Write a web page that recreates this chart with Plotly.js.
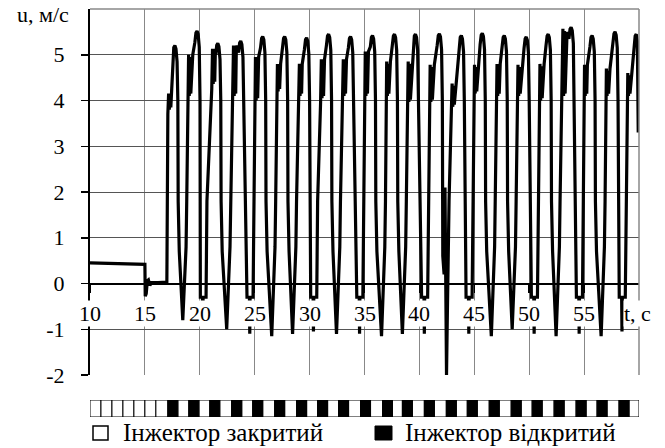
<!DOCTYPE html>
<html><head><meta charset="utf-8">
<script src="https://cdn.plot.ly/plotly-3.0.1.min.js"></script>
<style>html,body{margin:0;padding:0;background:#fff}#chart{width:665px;height:448px}</style>
</head><body><div id="chart"></div>
<script>
// time, s
const tSec = [
10, 12, 14, 15, 15.03, 15.12, 15.22, 15.32, 15.45, 15.6, 16.2, 17.0,
17.09, 17.16, 17.22, 17.29, 17.36, 17.42, 17.53, 17.63, 17.73, 17.83, 17.93, 18.0, 18.03, 18.13, 18.45, 18.75, 18.81,
18.91, 18.98, 19.04, 19.11, 19.18, 19.36, 19.55, 19.65, 19.75, 19.85, 19.95, 20.02, 20.05, 20.24, 20.27, 20.3, 20.57, 20.65,
21.09, 21.16, 21.22, 21.29, 21.36, 21.42, 21.46, 21.54, 21.64, 21.74, 21.84, 21.91, 21.94, 22.04, 22.45, 22.75, 22.81,
23.0, 23.07, 23.13, 23.2, 23.27, 23.33, 23.53, 23.63, 23.73, 23.83, 23.93, 24.0, 24.3, 24.52, 24.55, 24.58, 24.85, 24.93,
25.0, 25.07, 25.13, 25.2, 25.27, 25.36, 25.53, 25.63, 25.73, 25.83, 25.93, 26.0, 26.03, 26.13, 26.55, 26.85, 26.91,
27.0, 27.07, 27.13, 27.2, 27.27, 27.36, 27.53, 27.63, 27.73, 27.83, 27.93, 28.0, 28.03, 28.13, 28.45, 28.75, 28.81,
29.0, 29.07, 29.13, 29.2, 29.27, 29.33, 29.53, 29.63, 29.73, 29.83, 29.93, 30.0, 30.1, 30.32, 30.35, 30.38, 30.65, 30.73,
31.0, 31.07, 31.13, 31.2, 31.27, 31.36, 31.53, 31.63, 31.73, 31.83, 31.93, 32.0, 32.03, 32.13, 32.45, 32.75, 32.81,
33.0, 33.07, 33.13, 33.2, 33.27, 33.36, 33.53, 33.63, 33.73, 33.83, 33.93, 34.0, 34.3, 34.52, 34.55, 34.58, 34.85, 34.93,
35.0, 35.07, 35.13, 35.2, 35.27, 35.36, 35.53, 35.63, 35.73, 35.83, 35.93, 36.0, 36.03, 36.13, 36.55, 36.85, 36.91,
36.95, 37.02, 37.08, 37.15, 37.22, 37.36, 37.53, 37.63, 37.73, 37.83, 37.93, 38.0, 38.03, 38.13, 38.45, 38.75, 38.81,
38.91, 38.98, 39.04, 39.11, 39.18, 39.36, 39.44, 39.54, 39.64, 39.74, 39.84, 39.91, 40.2, 40.42, 40.45, 40.48, 40.75, 40.83,
40.91, 40.98, 41.04, 41.11, 41.18, 41.36, 41.62, 41.72, 41.82, 41.92, 42.02, 42.09, 42.13, 42.25, 42.33, 42.38, 42.42, 42.47, 42.55, 42.62, 42.7,
42.91, 42.98, 43.04, 43.11, 43.18, 43.36, 43.62, 43.72, 43.82, 43.92, 44.02, 44.09, 44.25, 44.47, 44.5, 44.53, 44.8, 44.88,
44.95, 45.02, 45.08, 45.15, 45.22, 45.36, 45.53, 45.63, 45.73, 45.83, 45.93, 46.0, 46.03, 46.13, 46.55, 46.85, 46.91,
47.0, 47.07, 47.13, 47.2, 47.27, 47.36, 47.53, 47.63, 47.73, 47.83, 47.93, 48.0, 48.03, 48.13, 48.45, 48.75, 48.81,
48.91, 48.98, 49.04, 49.11, 49.18, 49.36, 49.53, 49.63, 49.73, 49.83, 49.93, 50.0, 50.2, 50.42, 50.45, 50.48, 50.75, 50.83,
50.91, 50.98, 51.04, 51.11, 51.18, 51.36, 51.53, 51.63, 51.73, 51.83, 51.93, 52.0, 52.03, 52.13, 52.45, 52.75, 52.81,
53.0, 53.07, 53.13, 53.2, 53.27, 53.45, 53.62, 53.72, 53.82, 53.92, 54.02, 54.09, 54.3, 54.52, 54.55, 54.58, 54.85, 54.93,
54.98, 55.04, 55.1, 55.17, 55.24, 55.3, 55.53, 55.63, 55.73, 55.83, 55.93, 56.0, 56.03, 56.13, 56.55, 56.85, 56.91,
56.96, 57.03, 57.09, 57.16, 57.23, 57.36, 57.62, 57.72, 57.82, 57.92, 58.02, 58.09, 58.2, 58.42, 58.45, 58.48, 58.75, 58.83,
58.91, 58.98, 59.04, 59.11, 59.18, 59.36, 59.55, 59.65, 59.75, 59.85, 59.93
];
// velocity, m/s
const uVel = [
0.45, 0.44, 0.43, 0.42, -0.28, -0.22, 0.06, 0.08, -0.04, 0.02, 0.02, 0.03,
3.7, 4.15, 3.8, 4.1, 3.85, 4.15, 4.95, 5.16, 5.2, 5.13, 4.85, 4.0, 1.8, 0.7, -0.8, 0.8, 1.8,
4.0, 5.0, 4.1, 4.95, 4.15, 5.0, 5.27, 5.48, 5.52, 5.45, 5.17, 4.0, -0.3, -0.3, -0.9, -0.3, -0.3, 1.8,
4.26, 5.13, 4.36, 5.08, 4.41, 5.13, 5.0, 5.21, 5.25, 5.18, 4.9, 4.0, 1.8, 0.7, -1.0, 0.8, 1.8,
4.0, 5.2, 4.1, 5.15, 4.15, 5.2, 5.05, 5.26, 5.3, 5.23, 4.95, 4.0, -0.3, -0.3, -1.1, -0.3, -0.3, 1.8,
3.9, 4.95, 4.0, 4.9, 4.05, 4.95, 5.15, 5.36, 5.4, 5.33, 5.05, 4.0, 1.8, 0.7, -1.15, 0.8, 1.8,
4.1, 4.8, 4.2, 4.75, 4.25, 4.8, 5.15, 5.36, 5.4, 5.33, 5.05, 4.0, 1.8, 0.7, -1.1, 0.8, 1.8,
4.0, 4.8, 4.1, 4.75, 4.15, 4.8, 5.12, 5.33, 5.37, 5.3, 5.02, 4.0, -0.3, -0.3, -1.05, -0.3, -0.3, 1.8,
3.95, 4.9, 4.05, 4.85, 4.1, 4.9, 5.2, 5.41, 5.45, 5.38, 5.1, 4.0, 1.8, 0.7, -1.1, 0.8, 1.8,
4.0, 4.9, 4.1, 4.85, 4.15, 4.9, 5.15, 5.36, 5.4, 5.33, 5.05, 4.0, -0.3, -0.3, -1.1, -0.3, -0.3, 1.8,
4.0, 5.07, 4.1, 5.02, 4.15, 5.07, 5.17, 5.38, 5.42, 5.35, 5.07, 4.0, 1.8, 0.7, -1.15, 0.8, 1.8,
4.0, 4.85, 4.1, 4.8, 4.15, 4.85, 5.2, 5.41, 5.45, 5.38, 5.1, 4.0, 1.8, 0.7, -1.1, 0.8, 1.8,
3.87, 4.85, 3.97, 4.8, 4.02, 4.85, 5.2, 5.41, 5.45, 5.38, 5.1, 4.0, -0.3, -0.3, -1.1, -0.3, -0.3, 1.8,
3.87, 4.78, 3.97, 4.73, 4.02, 4.78, 5.21, 5.42, 5.46, 5.39, 5.11, 4.0, 0.6, 0.2, 2.1, 0.3, -0.5, -2.0, -0.6, 0.8, 1.8,
3.76, 4.37, 3.86, 4.32, 3.91, 4.37, 5.17, 5.38, 5.42, 5.35, 5.07, 4.0, -0.3, -0.3, -1.1, -0.3, -0.3, 1.8,
4.05, 4.78, 4.15, 4.73, 4.2, 4.78, 5.22, 5.43, 5.47, 5.4, 5.12, 4.0, 1.8, 0.7, -1.15, 0.8, 1.8,
4.0, 4.8, 4.1, 4.75, 4.15, 4.8, 5.17, 5.38, 5.42, 5.35, 5.07, 4.0, 1.8, 0.7, -1.0, 0.8, 1.8,
4.0, 4.78, 4.1, 4.73, 4.15, 4.78, 5.14, 5.35, 5.39, 5.32, 5.04, 4.0, -0.3, -0.3, -1.1, -0.3, -0.3, 1.8,
3.9, 4.8, 4.0, 4.75, 4.05, 4.8, 5.2, 5.41, 5.45, 5.38, 5.1, 4.0, 1.8, 0.7, -1.15, 0.8, 1.8,
4.0, 5.57, 4.1, 5.52, 4.15, 5.5, 5.35, 5.56, 5.6, 5.53, 5.25, 4.0, -0.3, -0.3, -1.1, -0.3, -0.3, 1.8,
4.0, 4.78, 4.1, 4.73, 4.15, 4.78, 5.17, 5.38, 5.42, 5.35, 5.07, 4.0, 1.8, 0.7, -1.15, 0.8, 1.8,
4.0, 4.7, 4.1, 4.65, 4.15, 4.7, 5.25, 5.46, 5.5, 5.43, 5.15, 4.0, -0.3, -0.3, -1.05, -0.3, -0.3, 1.8,
4.0, 4.6, 4.1, 4.55, 4.15, 4.6, 5.2, 5.41, 5.45, 5.3, 3.3
];

const xTickVals = [10, 15, 20, 25, 30, 35, 40, 45, 50, 55];
const xTickText = ['10', '15', '20', '25', '30', '35', '40', '45', '50', '55'];
const yTickVals = [-2, -1, 0, 1, 2, 3, 4, 5];
const yTickText = ['-2', '-1', '0', '1', '2', '3', '4', '5'];

// injector state strip
const openStart = [17.09, 19.0, 20.91, 22.9, 24.82, 26.82, 28.82, 30.73, 32.64, 34.64, 36.64, 38.45, 40.45, 42.45, 44.36, 46.36, 48.36, 50.27, 52.27, 54.27, 56.18, 58.18];
const openEnd   = [18.0, 19.92, 21.82, 23.82, 25.73, 27.73, 29.73, 31.64, 33.55, 35.55, 37.55, 39.36, 41.36, 43.36, 45.27, 47.27, 49.27, 51.18, 53.18, 55.18, 57.09, 59.09];
const closedStart = [10, 11, 12, 13, 14, 15, 16];
const closedEnd   = [11, 12, 13, 14, 15, 16, 17.09];
const stripEnd = 60;

const yLabel = 'u, м/с';
const xLabel = 't, с';
const legendClosed = 'Інжектор закритий';
const legendOpen = 'Інжектор відкритий';

const FONT = 'Liberation Serif';
const W = 665, H = 448, ML = 90, MR = 26, MT = 9, MB = 31;
const PW = W - ML - MR, PH = H - MT - MB;
const px = v => (v - ML) / PW;
const py = v => (H - MB - v) / PH;
const mainBottom = py(375);
const zeroPos = mainBottom + (0 - (-2)) / 8 * (1 - mainBottom);

const whiteStart = closedStart.concat(openEnd);
const whiteEnd = closedEnd.concat(openStart.slice(1), [stripEnd]);

const traces = [
  {type: 'scatter', mode: 'lines', x: tSec, y: uVel, xaxis: 'x', yaxis: 'y',
   line: {color: '#000', width: 3.2}, hoverinfo: 'skip'},
  {type: 'bar', orientation: 'h', xaxis: 'x2', yaxis: 'y2',
   base: whiteStart, x: whiteStart.map((s, i) => whiteEnd[i] - s), y: whiteStart.map(() => 0),
   width: 1, marker: {color: '#fff', line: {color: '#000', width: 1}}, hoverinfo: 'skip'},
  {type: 'bar', orientation: 'h', xaxis: 'x2', yaxis: 'y2',
   base: openStart, x: openStart.map((s, i) => openEnd[i] - s), y: openStart.map(() => 0),
   width: 1, marker: {color: '#000', line: {color: '#000', width: 1}}, hoverinfo: 'skip'}
];

const tf = {family: FONT, size: 22, color: '#000'};
const lf = {family: FONT, size: 25, color: '#000'};
const annotations = xTickVals.map((v, i) => ({
  x: v, y: -0.66, xref: 'x', yref: 'y', text: xTickText[i], showarrow: false,
  bgcolor: '#fff', borderpad: 0, font: tf, xanchor: 'center', yanchor: 'middle'
}));
annotations.push({x: px(623), xref: 'paper', y: -0.66, yref: 'y', text: xLabel, showarrow: false,
  bgcolor: '#fff', borderpad: 0, font: tf, xanchor: 'left', yanchor: 'middle'});
annotations.push({x: px(71), xref: 'paper', y: py(15), yref: 'paper', text: yLabel, showarrow: false,
  font: tf, xanchor: 'right', yanchor: 'middle'});
annotations.push({x: px(121), xref: 'paper', y: py(432), yref: 'paper', text: legendClosed, showarrow: false,
  font: lf, xanchor: 'left', yanchor: 'middle'});
annotations.push({x: px(403), xref: 'paper', y: py(432), yref: 'paper', text: legendOpen, showarrow: false,
  font: lf, xanchor: 'left', yanchor: 'middle'});

const shapes = [
  {type: 'line', xref: 'paper', yref: 'paper', x0: 0, x1: 1, y0: 1, y1: 1, line: {color: '#888', width: 1.5}},
  {type: 'line', xref: 'paper', yref: 'paper', x0: 1, x1: 1, y0: mainBottom, y1: 1, line: {color: '#888', width: 1.5}},
  {type: 'rect', xref: 'paper', yref: 'paper', x0: px(93), x1: px(108), y0: py(440), y1: py(426),
   fillcolor: '#fff', line: {color: '#000', width: 1.5}},
  {type: 'rect', xref: 'paper', yref: 'paper', x0: px(375), x1: px(392), y0: py(440), y1: py(426),
   fillcolor: '#000', line: {color: '#000', width: 1}}
];

const layout = {
  width: W, height: H,
  margin: {l: ML, r: MR, t: MT, b: MB, pad: 0},
  paper_bgcolor: '#fff', plot_bgcolor: 'rgba(0,0,0,0)',
  showlegend: false, barmode: 'overlay',
  font: {family: FONT, size: 22, color: '#000'},
  xaxis: {domain: [0, 1], range: [10, 60], anchor: 'free', position: zeroPos,
    tickmode: 'array', tickvals: xTickVals, showticklabels: false,
    ticks: 'outside', ticklen: 8, tickwidth: 1.5, tickcolor: '#000',
    showline: true, linecolor: '#000', linewidth: 2,
    showgrid: true, gridcolor: '#888', gridwidth: 1, zeroline: false, fixedrange: true},
  yaxis: {domain: [mainBottom, 1], range: [-2, 6], anchor: 'x',
    tickmode: 'array', tickvals: yTickVals, ticktext: yTickText,
    ticks: 'outside', ticklen: 7, tickwidth: 1.5, tickcolor: '#000',
    ticklabelstandoff: 12, tickfont: tf,
    showline: true, linecolor: '#000', linewidth: 2,
    showgrid: true, gridcolor: '#555', gridwidth: 1, zeroline: false, fixedrange: true},
  xaxis2: {domain: [0, 1], range: [10, 60], anchor: 'y2', visible: false, fixedrange: true},
  yaxis2: {domain: [0, py(400)], range: [-0.5, 0.5], anchor: 'x2', visible: false, fixedrange: true},
  annotations: annotations,
  shapes: shapes
};

Plotly.newPlot('chart', traces, layout, {staticPlot: true, displayModeBar: false});
</script>
</body></html>
